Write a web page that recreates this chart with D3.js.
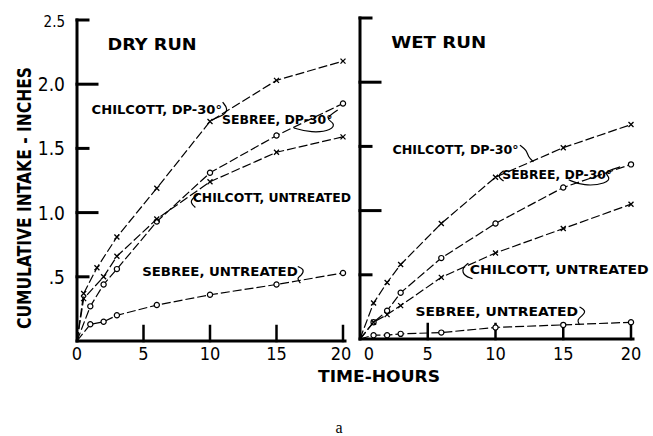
<!DOCTYPE html>
<html lang="en">
<head>
<meta charset="UTF-8">
<title>Cumulative intake</title>
<script src="https://d3js.org/d3.v7.min.js"></script>
<style>
    body { margin: 0; background: #fff; }
    svg text {
        font-family: "Liberation Sans Narrow", "DejaVu Sans Condensed", sans-serif;
        font-weight: bold;
        fill: #000;
    }
    .caption { font-family: "Liberation Serif", serif !important; font-weight: normal !important; }
    .series { fill: none; stroke: #000; stroke-width: 1.2; stroke-dasharray: 9 3; }
    .leader { fill: none; stroke: #000; stroke-width: 1.2; }
    .axis { stroke: #000; stroke-width: 3; stroke-linecap: square; }
</style>
</head>
<body>
<svg id="chart" width="653" height="436"></svg>
<script>
// reading times, hours (origin included)
const hoursX  = [0, 0.5, 1.5, 3, 6, 10, 15, 20];
const hoursX2 = [0, 0.5, 2, 3, 6, 10, 15, 20];
const hoursO  = [0, 1, 2, 3, 6, 10, 15, 20];

// dry run, cumulative intake inches
const dryChilcottDP = [0, 0.37, 0.57, 0.81, 1.19, 1.71, 2.03, 2.18];
const drySebreeDP   = [0, 0.27, 0.44, 0.56, 0.93, 1.31, 1.60, 1.85];
const dryChilcottUn = [0, 0.33, 0.50, 0.66, 0.95, 1.24, 1.47, 1.59];
const drySebreeUn   = [0, 0.13, 0.15, 0.20, 0.28, 0.36, 0.44, 0.53];

// wet run
const wetChilcottDP = [0, 0.28, 0.44, 0.58, 0.90, 1.26, 1.49, 1.67];
const wetSebreeDP   = [0, 0.13, 0.22, 0.36, 0.63, 0.90, 1.18, 1.36];
const wetChilcottUn = [0, 0.13, 0.19, 0.26, 0.48, 0.67, 0.86, 1.05];
const wetSebreeUn   = [0, 0.03, 0.03, 0.04, 0.05, 0.09, 0.11, 0.13];

const xTicks = [0, 5, 10, 15, 20];
const yTicks = [0.5, 1.0, 1.5, 2.0, 2.5];
const yTickLabels = [".5", "1.0", "1.5", "2.0", "2.5"];

const svg = d3.select("#chart");

const panels = [
    {
        title: "DRY RUN",
        x: d3.scaleLinear().domain([0, 20]).range([77, 343]),
        y: d3.scaleLinear().domain([0, 2.5]).range([341, 20]),
        series: [
            { t: hoursX,  v: dryChilcottDP, mark: "x" },
            { t: hoursO,  v: drySebreeDP,   mark: "o" },
            { t: hoursX2, v: dryChilcottUn, mark: "x" },
            { t: hoursO,  v: drySebreeUn,   mark: "o" }
        ],
        labels: [
            { text: "CHILCOTT, DP-30°", t0: 1.1, t1: 10.9, v: 1.77 },
            { text: "SEBREE, DP-30°", t0: 10.9, t1: 19.2, v: 1.69 },
            { text: "CHILCOTT, UNTREATED", t0: 8.7, t1: 20.6, v: 1.08 },
            { text: "SEBREE, UNTREATED", t0: 4.9, t1: 16.6, v: 0.51 }
        ],
        // hand drawn pointers, in data units
        leaders: [
            [[10.95, 1.86], [11.35, 1.81], [11.1, 1.76], [10.3, 1.73]],
            [[16.3, 1.66], [17.6, 1.62], [19.2, 1.64], [19.4, 1.70], [18.6, 1.73], [19.6, 1.80]],
            [[9.1, 1.14], [8.4, 1.09], [8.9, 1.04]],
            [[16.6, 0.58], [17.1, 0.56], [16.9, 0.51], [16.5, 0.49], [16.8, 0.45]]
        ],
        yLabels: true,
        zeroDx: 0,
        lastDx: -2
    },
    {
        title: "WET RUN",
        x: d3.scaleLinear().domain([0, 20]).range([360, 631]),
        y: d3.scaleLinear().domain([0, 2.5]).range([339, 18]),
        series: [
            { t: hoursO, v: wetChilcottDP, mark: "x" },
            { t: hoursO, v: wetSebreeDP,   mark: "o" },
            { t: hoursO, v: wetChilcottUn, mark: "x" },
            { t: hoursO, v: wetSebreeUn,   mark: "o" }
        ],
        labels: [
            { text: "CHILCOTT, DP-30°", t0: 2.4, t1: 11.7, v: 1.44 },
            { text: "SEBREE, DP-30°", t0: 10.5, t1: 18.6, v: 1.25 },
            { text: "CHILCOTT, UNTREATED", t0: 8.1, t1: 21.3, v: 0.51 },
            { text: "SEBREE, UNTREATED", t0: 4.1, t1: 16.1, v: 0.18 }
        ],
        leaders: [
            [[11.8, 1.51], [12.3, 1.47], [12.4, 1.42], [12.8, 1.38]],
            [[10.6, 1.31], [10.1, 1.27], [10.6, 1.23]],
            [[15.4, 1.24], [16.5, 1.19], [18.2, 1.21], [18.5, 1.26], [17.9, 1.30], [19.2, 1.34]],
            [[8.0, 0.59], [7.5, 0.55], [7.7, 0.49], [8.3, 0.47]],
            [[16.2, 0.25], [16.7, 0.22], [16.4, 0.18], [16.0, 0.15], [16.2, 0.11]]
        ],
        yLabels: false,
        zeroDx: 9,
        lastDx: 0
    }
];

panels.forEach(p => {
    const g = svg.append("g");
    const x = p.x, y = p.y;

    // axes
    g.append("line").attr("class", "axis")
        .attr("x1", x(0)).attr("x2", x(0)).attr("y1", y(0)).attr("y2", y(2.5));
    g.append("line").attr("class", "axis")
        .attr("x1", x(0)).attr("x2", x(20) + 2).attr("y1", y(0)).attr("y2", y(0));

    // inward ticks, whole numbers longer
    g.selectAll(".ytick").data(yTicks).enter().append("line")
        .attr("class", "axis")
        .attr("x1", x(0))
        .attr("x2", d => x(0) + (d % 1 === 0 ? 20 : 11))
        .attr("y1", d => y(d)).attr("y2", d => y(d));
    g.selectAll(".xtick").data(xTicks.slice(1)).enter().append("line")
        .attr("class", "axis")
        .attr("x1", d => x(d)).attr("x2", d => x(d))
        .attr("y1", y(0)).attr("y2", y(0) - 15)
        .style("stroke-width", 2.5);

    g.selectAll(".xlab").data(xTicks).enter().append("text")
        .attr("x", d => x(d) + (d === 0 ? p.zeroDx : d === 20 ? p.lastDx : 0))
        .attr("y", 360)
        .attr("text-anchor", "middle")
        .style("font-size", "18px")
        .style("font-weight", "normal")
        .text(d => d);

    if (p.yLabels) {
        g.selectAll(".ylab").data(yTicks).enter().append("text")
            .attr("x", x(0) - 12)
            .attr("y", d => y(d) + 7)
            .attr("text-anchor", "end")
            .style("font-size", d => d === 2.5 ? "15px" : "19px")
            .style("font-weight", "normal")
            .text((d, i) => yTickLabels[i]);
    }

    g.append("text")
        .attr("x", x(2.3)).attr("y", y(2.5) + 30)
        .style("font-size", "16px")
        .attr("textLength", p.yLabels ? 89 : 95)
        .attr("lengthAdjust", "spacingAndGlyphs")
        .text(p.title);

    const line = d3.line().x(d => x(d[0])).y(d => y(d[1]));

    p.series.forEach(s => {
        const pts = s.t.map((t, i) => [t, s.v[i]]);
        g.append("path").attr("class", "series").attr("d", line(pts));
        const m = g.append("g").selectAll("g").data(pts.slice(1)).enter().append("g")
            .attr("transform", d => `translate(${x(d[0])},${y(d[1])})`);
        if (s.mark === "x") {
            m.append("path").attr("d", "M-2.5,-2.5L2.5,2.5M-2.5,2.5L2.5,-2.5")
                .attr("stroke", "#000").attr("stroke-width", 1.3);
        } else {
            m.append("circle").attr("r", 2.6)
                .attr("fill", "#fff").attr("stroke", "#000").attr("stroke-width", 1.2);
        }
    });

    p.labels.forEach(l => {
        g.append("text")
            .attr("x", x(l.t0)).attr("y", y(l.v))
            .style("font-size", "13px")
            .attr("textLength", x(l.t1) - x(l.t0))
            .attr("lengthAdjust", "spacingAndGlyphs")
            .text(l.text);
    });

    const leaderLine = d3.line().curve(d3.curveBasis).x(d => x(d[0])).y(d => y(d[1]));
    p.leaders.forEach(pts => {
        g.append("path").attr("class", "leader").attr("d", leaderLine(pts));
    });
});

// shared axis titles
svg.append("text")
    .attr("transform", "translate(31,198) rotate(-90)")
    .attr("text-anchor", "middle")
    .style("font-size", "19px")
    .attr("textLength", 262)
    .attr("lengthAdjust", "spacingAndGlyphs")
    .text("CUMULATIVE  INTAKE - INCHES");

svg.append("text")
    .attr("x", 379).attr("y", 382)
    .attr("text-anchor", "middle")
    .style("font-size", "16px")
    .attr("textLength", 122)
    .attr("lengthAdjust", "spacingAndGlyphs")
    .text("TIME-HOURS");

svg.append("text")
    .attr("class", "caption")
    .attr("x", 339).attr("y", 433)
    .attr("text-anchor", "middle")
    .style("font-size", "16px")
    .text("a");
</script>
</body>
</html>
